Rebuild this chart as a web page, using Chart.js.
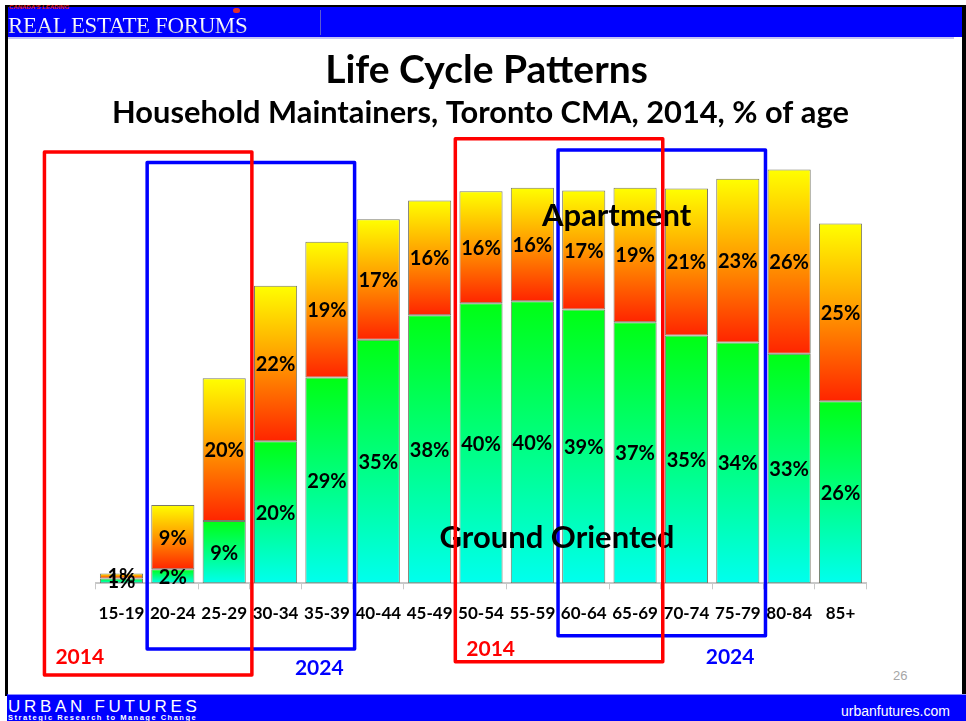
<!DOCTYPE html>
<html><head><meta charset="utf-8">
<script src="https://cdn.jsdelivr.net/npm/chart.js@4.4.1/dist/chart.umd.min.js"></script>
<style>
html,body{margin:0;padding:0;background:#fff;}
#slide{position:relative;width:966px;height:721px;overflow:hidden;background:#fff;}
.abs{position:absolute;}
#frame{left:5px;top:5px;width:954px;height:689px;border-left:3px solid #000;border-right:4px solid #000;border-top:2px solid #000;}
#hdr{left:8px;top:7px;width:954px;height:30px;background:#0000ff;}
#hdrline{left:8px;top:37px;width:946px;height:2px;background:#c4c4f4;}
#hdrdiv{left:320px;top:10px;width:1px;height:25px;background:#5a5ad0;}
#canlead{left:9px;top:4px;font:bold italic 6px "Liberation Sans",sans-serif;color:#e02020;white-space:nowrap;}
#leaf{left:233px;top:8px;width:7px;height:5px;background:#e03030;border-radius:3px;}
#ref{left:8px;top:14px;font:23px "Liberation Serif",serif;line-height:23px;white-space:nowrap;
  background:linear-gradient(#ffffff 40%,#b8b8c0);-webkit-background-clip:text;background-clip:text;color:transparent;letter-spacing:-0.4px;}
#ftr{left:7px;top:694px;width:959px;height:27px;background:#0000ff;}
#ftrline{left:8px;top:694px;width:958px;height:1px;background:#8c8cff;}
#uf{left:8px;top:698px;font:17px "Liberation Sans",sans-serif;line-height:17px;color:#fff;letter-spacing:3.7px;white-space:nowrap;}
#ufsub{left:8px;top:714px;font:bold 7.5px "Liberation Sans",sans-serif;line-height:8px;color:#fff;letter-spacing:1.5px;white-space:nowrap;}
#ufcom{left:841px;top:703px;font:14px "Liberation Sans",sans-serif;line-height:16px;color:#fff;white-space:nowrap;}
#pg{left:893px;top:668px;font:13px "Liberation Sans",sans-serif;line-height:15px;color:#a6a6a6;}
#c{position:absolute;left:0;top:0;}
</style></head>
<body>
<div id="slide">
  <div class="abs" id="frame"></div>
  <div class="abs" id="hdr"></div>
  <div class="abs" id="hdrline"></div>
  <div class="abs" id="hdrdiv"></div>
  <div class="abs" id="canlead">CANADA'S LEADING</div>
  <div class="abs" id="ref">REAL ESTATE FORUMS</div>
  <div class="abs" id="leaf"></div>
  <div class="abs" id="ftr"></div>
  <div class="abs" id="ftrline"></div>
  <div class="abs" id="uf">URBAN FUTURES</div>
  <div class="abs" id="ufsub">Strategic Research to Manage Change</div>
  <div class="abs" id="ufcom">urbanfutures.com</div>
  <div class="abs" id="pg">26</div>
  <canvas id="c" width="966" height="721"></canvas>
</div>
<script>
// ---- data ----
const ageGroups = ['15-19','20-24','25-29','30-34','35-39','40-44','45-49','50-54','55-59','60-64','65-69','70-74','75-79','80-84','85+'];
const groundOriented = [0.7, 2.0, 8.9, 20.3, 29.4, 34.8, 38.3, 40.0, 40.3, 39.1, 37.3, 35.4, 34.4, 32.8, 26.0];
const apartment      = [0.7, 9.2, 20.4, 22.2, 19.4, 17.2, 16.4, 16.0, 16.2, 17.0, 19.2, 21.0, 23.4, 26.3, 25.4];
const seriesNames = ['Ground Oriented', 'Apartment'];
const chartTitle = 'Life Cycle Patterns';
const chartSubtitle = 'Household Maintainers, Toronto CMA, 2014, % of age';

// ---- styling ----
const groundStops = [[0,'#00ff14'],[0.5,'#00ff80'],[1,'#00ffee']];
const aptStops = [[0,'#ffff00'],[0.45,'#ffa200'],[1,'#ff2400']];

function segGradient(ctx, stops, isTop) {
  const chart = ctx.chart;
  const {chartArea, scales} = chart;
  if (!chartArea || ctx.dataIndex === undefined) return stops[1][1];
  const i = ctx.dataIndex;
  const base = isTop ? groundOriented[i] : 0;
  const top = base + (isTop ? apartment[i] : groundOriented[i]);
  const y0 = scales.y.getPixelForValue(top);
  const y1 = scales.y.getPixelForValue(base);
  const g = chart.ctx.createLinearGradient(0, y0, 0, y1);
  stops.forEach(s => g.addColorStop(s[0], s[1]));
  return g;
}

// annotation boxes: category-index spans, y in value units
const cohortBoxes = [
  {from:-1, to:3,  top:61.6, bottom:-13.1, color:'#ff0000', text:'2014', align:'left',  labelY:-10.5, layer:'front'},
  {from:1,  to:5,  top:60.1, bottom:-9.4,  color:'#0000ff', text:'2024', align:'right', labelY:-12.2, layer:'back'},
  {from:7,  to:11, top:63.5, bottom:-11.2, color:'#ff0000', text:'2014', align:'left',  labelY:-9.4,  layer:'front'},
  {from:9,  to:13, top:61.9, bottom:-7.5,  color:'#0000ff', text:'2024', align:'right', labelY:-10.5, layer:'back'}
];
const areaLabels = [
  {text:'Apartment', at:9.64, value:51.0},
  {text:'Ground Oriented', at:8.48, value:5.0}
];

function drawBoxes(chart, layer) {
  const ctx = chart.ctx, xs = chart.scales.x, ys = chart.scales.y;
  const half = (xs.getPixelForValue(1) - xs.getPixelForValue(0)) / 2;
  cohortBoxes.filter(b => b.layer === layer).forEach(b => {
    const l = xs.getPixelForValue(b.from) - half;
    const r = xs.getPixelForValue(b.to) - half + 2;
    const t = ys.getPixelForValue(b.top), bt = ys.getPixelForValue(b.bottom);
    ctx.save();
    ctx.strokeStyle = b.color; ctx.lineWidth = 3.5; ctx.lineJoin = 'round';
    ctx.strokeRect(l, t, r - l, bt - t);
    ctx.fillStyle = b.color;
    ctx.font = 'bold 21px Lato';
    ctx.textBaseline = 'middle';
    ctx.textAlign = b.align;
    ctx.fillText(b.text, b.align === 'left' ? l + 11 : r - 11, ys.getPixelForValue(b.labelY));
    ctx.restore();
  });
}

const overlay = {
  id: 'overlay',
  afterDatasetsDraw(chart) {
    const ctx = chart.ctx;
    ctx.save();
    ctx.fillStyle = '#000';
    ctx.font = 'bold 20px Lato';
    ctx.textAlign = 'center';
    ctx.textBaseline = 'middle';
    chart.data.datasets.forEach((ds, di) => {
      const meta = chart.getDatasetMeta(di);
      meta.data.forEach((el, i) => {
        ctx.fillText(Math.round(ds.data[i]) + '%', el.x, (el.y + el.base) / 2 + 1);
      });
    });
    ctx.restore();
  },
  afterDraw(chart) {
    const ctx = chart.ctx, xs = chart.scales.x, ys = chart.scales.y;
    drawBoxes(chart, 'back');
    ctx.save();
    ctx.fillStyle = '#000';
    ctx.font = 'bold 31px Lato';
    ctx.textAlign = 'center';
    ctx.textBaseline = 'alphabetic';
    areaLabels.forEach(a => ctx.fillText(a.text, xs.getPixelForValue(a.at), ys.getPixelForValue(a.value)));
    ctx.restore();
    drawBoxes(chart, 'front');
    // titles
    ctx.save();
    ctx.fillStyle = '#000';
    ctx.textAlign = 'center';
    ctx.textBaseline = 'alphabetic';
    ctx.font = 'bold 39px Lato';
    ctx.fillText(chartTitle, 486.5, 83);
    ctx.font = 'bold 30.8px Lato';
    ctx.fillText(chartSubtitle, 480.5, 123);
    ctx.restore();
  }
};

new Chart(document.getElementById('c'), {
  type: 'bar',
  data: {
    labels: ageGroups,
    datasets: [
      {label: seriesNames[0], data: groundOriented,
       backgroundColor: ctx => segGradient(ctx, groundStops, false),
       borderColor: '#7a7a6a', borderWidth: 1, borderSkipped: false},
      {label: seriesNames[1], data: apartment,
       backgroundColor: ctx => segGradient(ctx, aptStops, true),
       borderColor: '#7a7a6a', borderWidth: 1, borderSkipped: false}
    ]
  },
  options: {
    responsive: false,
    animation: false,
    devicePixelRatio: 1,
    layout: {padding: {left: 95.8, right: 99.8, top: 163.3, bottom: 87.7}},
    datasets: {bar: {categoryPercentage: 1.0, barPercentage: 0.84}},
    plugins: {legend: {display: false}, tooltip: {enabled: false}, title: {display: false}},
    scales: {
      x: {
        stacked: true,
        grid: {display: true, drawOnChartArea: false, drawTicks: true, tickLength: 6, color: '#c8c8c8', offset: true},
        border: {display: true, color: '#c8c8c8', width: 2},
        ticks: {color: '#000', font: {family: 'Lato', weight: 'bold', size: 17}, padding: 14, maxRotation: 0, autoSkip: false},
        afterFit(s) { s.height = 50; }
      },
      y: {stacked: true, display: false, min: 0, max: 60}
    }
  },
  plugins: [overlay]
});
</script>
</body></html>
